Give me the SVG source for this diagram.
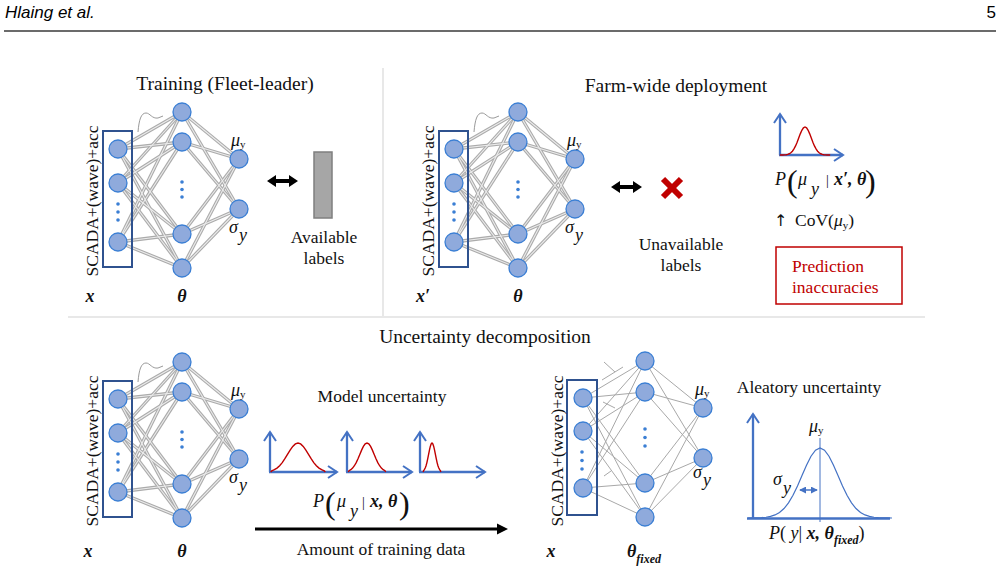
<svg xmlns="http://www.w3.org/2000/svg" xmlns:xlink="http://www.w3.org/1999/xlink" width="999" height="576" viewBox="0 0 999 576">
<style>
.hd{font-family:"Liberation Sans",Arial,sans-serif;font-size:17px;fill:#000}
.t{font-family:"Liberation Serif","Times New Roman",serif;font-size:17.5px;fill:#111}
.ti{font-family:"Liberation Serif","Times New Roman",serif;font-size:19.5px;fill:#111}
.m{font-family:"Liberation Serif","Times New Roman",serif;font-size:18px;fill:#111;font-style:italic}
.b{font-weight:bold;font-style:italic}
.n{fill:#8faadc;stroke:#3b7fd4;stroke-width:1.3}
.d{fill:#3b7fd4}
.box{fill:none;stroke:#2f528f;stroke-width:2}
.eo{stroke:#ababab;stroke-width:3.3;fill:none}
.ei{stroke:#ececec;stroke-width:1.1;fill:none}
.e1{stroke:#a8a8a8;stroke-width:1;fill:none}
.sq{fill:none;stroke:#9a9a9a;stroke-width:1}
.ax{stroke:#4472c4;stroke-width:2.3;fill:none}
.gr{fill:none;stroke:#c00000;stroke-width:1.4}
.gb{fill:none;stroke:#4472c4;stroke-width:1.2}
.sep{stroke:#e0e0e0;stroke-width:1.5}
</style>
<defs>
<marker id="va" viewBox="0 0 12 14" refX="10" refY="7" markerWidth="12" markerHeight="14" orient="auto" markerUnits="userSpaceOnUse">
<path d="M1,1 L10,7 L1,13" fill="none" stroke="#4472c4" stroke-width="2"/>
</marker>
<marker id="sa" viewBox="0 0 8 8" refX="7" refY="4" markerWidth="7" markerHeight="7" orient="auto-start-reverse" markerUnits="userSpaceOnUse">
<path d="M0,0 L8,4 L0,8 z" fill="#4472c4"/>
</marker>
<path id="gauss" vector-effect="non-scaling-stroke" d="M-4,0 L-3.75,-0.0009 L-3.5,-0.0022 L-3.25,-0.0051 L-3,-0.0111 L-2.75,-0.0228 L-2.5,-0.0439 L-2.25,-0.0796 L-2,-0.1353 L-1.75,-0.2163 L-1.5,-0.3247 L-1.25,-0.4578 L-1,-0.6065 L-0.75,-0.7548 L-0.5,-0.8825 L-0.25,-0.9692 L0,-1 L0.25,-0.9692 L0.5,-0.8825 L0.75,-0.7548 L1,-0.6065 L1.25,-0.4578 L1.5,-0.3247 L1.75,-0.2163 L2,-0.1353 L2.25,-0.0796 L2.5,-0.0439 L2.75,-0.0228 L3,-0.0111 L3.25,-0.0051 L3.5,-0.0022 L3.75,-0.0009 L4,0"/>
<path id="gauss3" vector-effect="non-scaling-stroke" d="M-2.6,0 L-2.5,-0.0439 L-2.25,-0.0796 L-2,-0.1353 L-1.75,-0.2163 L-1.5,-0.3247 L-1.25,-0.4578 L-1,-0.6065 L-0.75,-0.7548 L-0.5,-0.8825 L-0.25,-0.9692 L0,-1 L0.25,-0.9692 L0.5,-0.8825 L0.75,-0.7548 L1,-0.6065 L1.25,-0.4578 L1.5,-0.3247 L1.75,-0.2163 L2,-0.1353 L2.25,-0.0796 L2.5,-0.0439 L2.6,0"/>
<g id="edgesA">
<line x1="118" y1="149" x2="182" y2="112"/><line x1="118" y1="149" x2="182" y2="142"/><line x1="118" y1="149" x2="182" y2="234"/><line x1="118" y1="149" x2="182" y2="268"/>
<line x1="118" y1="183" x2="182" y2="112"/><line x1="118" y1="183" x2="182" y2="142"/><line x1="118" y1="183" x2="182" y2="234"/><line x1="118" y1="183" x2="182" y2="268"/>
<line x1="118" y1="242" x2="182" y2="112"/><line x1="118" y1="242" x2="182" y2="142"/><line x1="118" y1="242" x2="182" y2="234"/><line x1="118" y1="242" x2="182" y2="268"/>
<line x1="182" y1="112" x2="239" y2="159"/><line x1="182" y1="112" x2="239" y2="209"/>
<line x1="182" y1="142" x2="239" y2="159"/><line x1="182" y1="142" x2="239" y2="209"/>
<line x1="182" y1="234" x2="239" y2="159"/><line x1="182" y1="234" x2="239" y2="209"/>
<line x1="182" y1="268" x2="239" y2="159"/><line x1="182" y1="268" x2="239" y2="209"/>
</g>
</defs>

<!-- header -->
<g id="header">
<text class="hd" x="5" y="18" font-style="italic">Hlaing et al.</text>
<text class="hd" x="996" y="18" text-anchor="end">5</text>
<line x1="4" y1="31" x2="996" y2="31" stroke="#3a3a3a" stroke-width="1.5"/>
</g>

<!-- separators -->
<g id="separators">
<line class="sep" x1="383" y1="68" x2="383" y2="316"/>
<line class="sep" x1="68" y1="317" x2="925" y2="317"/>
</g>

<!-- titles -->
<g id="titles">
<text class="ti" x="225" y="90" text-anchor="middle">Training (Fleet-leader)</text>
<text class="ti" x="676" y="92" text-anchor="middle">Farm-wide deployment</text>
<text class="ti" x="485" y="343" text-anchor="middle">Uncertainty decomposition</text>
</g>

<!-- connectors -->
<g id="connectors">
<use xlink:href="#edgesA" href="#edgesA" class="eo"/>
<use xlink:href="#edgesA" href="#edgesA" class="ei"/>
<use xlink:href="#edgesA" href="#edgesA" class="eo" transform="translate(336,0)"/>
<use xlink:href="#edgesA" href="#edgesA" class="ei" transform="translate(336,0)"/>
<use xlink:href="#edgesA" href="#edgesA" class="eo" transform="translate(0,250)"/>
<use xlink:href="#edgesA" href="#edgesA" class="ei" transform="translate(0,250)"/>
<path class="sq" d="M138,132 C139,120 141,113 146,113 C150,113 152,119 158,118 L163,116"/>
<path class="sq" d="M474,132 C475,120 477,113 482,113 C486,113 488,119 494,118 L499,116"/>
<path class="sq" d="M138,382 C139,370 141,363 146,363 C150,363 152,369 158,368 L163,366"/>
<g class="e1">
<line x1="583" y1="398" x2="645" y2="361"/><line x1="583" y1="398" x2="645" y2="392"/><line x1="583" y1="398" x2="645" y2="483"/><line x1="583" y1="398" x2="645" y2="517"/>
<line x1="583" y1="431" x2="645" y2="361"/><line x1="583" y1="431" x2="645" y2="392"/><line x1="583" y1="431" x2="645" y2="483"/><line x1="583" y1="431" x2="645" y2="517"/>
<line x1="583" y1="488" x2="645" y2="361"/><line x1="583" y1="488" x2="645" y2="392"/><line x1="583" y1="488" x2="645" y2="483"/><line x1="583" y1="488" x2="645" y2="517"/>
<line x1="645" y1="361" x2="703" y2="408"/><line x1="645" y1="361" x2="703" y2="458"/>
<line x1="645" y1="392" x2="703" y2="408"/><line x1="645" y1="392" x2="703" y2="458"/>
<line x1="645" y1="483" x2="703" y2="408"/><line x1="645" y1="483" x2="703" y2="458"/>
<line x1="645" y1="517" x2="703" y2="408"/><line x1="645" y1="517" x2="703" y2="458"/>
<line x1="604" y1="362" x2="615" y2="372"/><line x1="602" y1="380" x2="623" y2="367"/>
<line x1="603" y1="402" x2="615" y2="408"/><line x1="604" y1="476" x2="611" y2="471"/>
</g>
</g>

<!-- network 1: training -->
<g id="net1">
<g id="n1-input"><rect class="box" x="103" y="131" width="29" height="136"/>
<circle class="n" cx="118" cy="149" r="9"/><circle class="n" cx="118" cy="183" r="9"/><circle class="n" cx="118" cy="242" r="9"/>
<circle class="d" cx="118" cy="204" r="1.8"/><circle class="d" cx="118" cy="212" r="1.8"/><circle class="d" cx="118" cy="220" r="1.8"/></g>
<g id="n1-hidden"><circle class="n" cx="182" cy="112" r="9"/><circle class="n" cx="182" cy="142" r="9"/><circle class="n" cx="182" cy="234" r="9"/><circle class="n" cx="182" cy="268" r="9"/>
<circle class="d" cx="182" cy="182" r="1.8"/><circle class="d" cx="182" cy="189.5" r="1.8"/><circle class="d" cx="182" cy="197" r="1.8"/></g>
<g id="n1-output"><circle class="n" cx="239" cy="159" r="9"/><circle class="n" cx="239" cy="209" r="9"/></g>
<text class="m" x="231" y="146">μ<tspan font-size="11" font-style="normal" dy="2">y</tspan></text>
<text class="m" x="229" y="233">σ<tspan dx="1" dy="8">y</tspan></text>
<text class="t" transform="translate(98,201) rotate(-90)" text-anchor="middle">SCADA+(wave)+acc</text>
<text class="m b" x="90" y="302" text-anchor="middle">x</text>
<text class="m b" x="182" y="302" text-anchor="middle">θ</text>
</g>
<g id="labels-available">
<polygon points="267,181 276,175 276,179 289,179 289,175 298,181 289,187 289,183 276,183 276,187" fill="#000"/>
<rect x="314" y="152" width="18" height="66" fill="#a6a6a6" stroke="#7f7f7f" stroke-width="1.5"/>
<text class="t" x="324" y="243" text-anchor="middle">Available</text>
<text class="t" x="324" y="264" text-anchor="middle">labels</text>
</g>

<!-- network 2: deployment -->
<g id="net2">
<g id="n2-input"><rect class="box" x="439" y="131" width="29" height="136"/>
<circle class="n" cx="454" cy="149" r="9"/><circle class="n" cx="454" cy="183" r="9"/><circle class="n" cx="454" cy="242" r="9"/>
<circle class="d" cx="454" cy="204" r="1.8"/><circle class="d" cx="454" cy="212" r="1.8"/><circle class="d" cx="454" cy="220" r="1.8"/></g>
<g id="n2-hidden"><circle class="n" cx="518" cy="112" r="9"/><circle class="n" cx="518" cy="142" r="9"/><circle class="n" cx="518" cy="234" r="9"/><circle class="n" cx="518" cy="268" r="9"/>
<circle class="d" cx="518" cy="182" r="1.8"/><circle class="d" cx="518" cy="189.5" r="1.8"/><circle class="d" cx="518" cy="197" r="1.8"/></g>
<g id="n2-output"><circle class="n" cx="575" cy="159" r="9"/><circle class="n" cx="575" cy="209" r="9"/></g>
<text class="m" x="567" y="146">μ<tspan font-size="11" font-style="normal" dy="2">y</tspan></text>
<text class="m" x="565" y="233">σ<tspan dx="1" dy="8">y</tspan></text>
<text class="t" transform="translate(434,201) rotate(-90)" text-anchor="middle">SCADA+(wave)+acc</text>
<text class="m b" x="423" y="302" text-anchor="middle">x′</text>
<text class="m b" x="518" y="302" text-anchor="middle">θ</text>
</g>
<g id="labels-unavailable">
<polygon points="611,187 620,181 620,185 633,185 633,181 642,187 633,193 633,189 620,189 620,193" fill="#000"/>
<g stroke="#c00000" stroke-width="6"><line x1="663" y1="179" x2="681" y2="197"/><line x1="681" y1="179" x2="663" y2="197"/></g>
<text class="t" x="681" y="250" text-anchor="middle">Unavailable</text>
<text class="t" x="681" y="271" text-anchor="middle">labels</text>
</g>
<g id="deploy-output">
<line class="ax" x1="780" y1="155" x2="780" y2="114" marker-end="url(#va)"/>
<line class="ax" x1="779" y1="155" x2="843" y2="155" marker-end="url(#va)"/>
<use xlink:href="#gauss" href="#gauss" class="gr" transform="translate(805,155) scale(6.3,28)"/>
<text class="m" y="185"><tspan x="775">P</tspan><tspan x="787" y="192" font-size="32" font-style="normal">(</tspan><tspan x="798" y="185">μ</tspan><tspan x="811" y="195">y</tspan><tspan x="826" y="185" font-size="14" font-style="normal">|</tspan><tspan x="834" class="b">x′, θ</tspan><tspan x="865" y="192" font-size="32" font-style="normal">)</tspan></text>
<text class="t" x="774" y="226"><tspan font-family="DejaVu Sans" font-size="16">↑</tspan><tspan x="795">CoV(</tspan><tspan font-style="italic">μ</tspan><tspan font-size="11" dy="3">y</tspan><tspan dy="-3">)</tspan></text>
<rect x="776" y="247" width="126" height="57" fill="none" stroke="#c00000" stroke-width="1.5"/>
<text class="t" x="792" y="272" style="fill:#c00000">Prediction</text>
<text class="t" x="792" y="293" style="fill:#c00000">inaccuracies</text>
</g>

<!-- network 3: model uncertainty -->
<g id="net3">
<g id="n3-input"><rect class="box" x="103" y="381" width="29" height="136"/>
<circle class="n" cx="118" cy="399" r="9"/><circle class="n" cx="118" cy="433" r="9"/><circle class="n" cx="118" cy="492" r="9"/>
<circle class="d" cx="118" cy="454" r="1.8"/><circle class="d" cx="118" cy="462" r="1.8"/><circle class="d" cx="118" cy="470" r="1.8"/></g>
<g id="n3-hidden"><circle class="n" cx="182" cy="362" r="9"/><circle class="n" cx="182" cy="392" r="9"/><circle class="n" cx="182" cy="484" r="9"/><circle class="n" cx="182" cy="518" r="9"/>
<circle class="d" cx="182" cy="432" r="1.8"/><circle class="d" cx="182" cy="439.5" r="1.8"/><circle class="d" cx="182" cy="447" r="1.8"/></g>
<g id="n3-output"><circle class="n" cx="239" cy="409" r="9"/><circle class="n" cx="239" cy="459" r="9"/></g>
<text class="m" x="231" y="396">μ<tspan font-size="11" font-style="normal" dy="2">y</tspan></text>
<text class="m" x="229" y="483">σ<tspan dx="1" dy="8">y</tspan></text>
<text class="t" transform="translate(98,451) rotate(-90)" text-anchor="middle">SCADA+(wave)+acc</text>
<text class="m b" x="88" y="557" text-anchor="middle">x</text>
<text class="m b" x="182" y="557" text-anchor="middle">θ</text>
</g>
<g id="model-uncertainty">
<text class="t" x="382" y="402" text-anchor="middle">Model uncertainty</text>
<line class="ax" x1="270" y1="472" x2="270" y2="432" marker-end="url(#va)"/>
<line class="ax" x1="269" y1="472" x2="337" y2="472" marker-end="url(#va)"/>
<use xlink:href="#gauss3" href="#gauss3" class="gr" transform="translate(298,472) scale(10.5,29)"/>
<line class="ax" x1="347" y1="472" x2="347" y2="432" marker-end="url(#va)"/>
<line class="ax" x1="346" y1="472" x2="412" y2="472" marker-end="url(#va)"/>
<use xlink:href="#gauss3" href="#gauss3" class="gr" transform="translate(367,472) scale(7.2,29)"/>
<line class="ax" x1="420" y1="472" x2="420" y2="432" marker-end="url(#va)"/>
<line class="ax" x1="419" y1="472" x2="485" y2="472" marker-end="url(#va)"/>
<use xlink:href="#gauss3" href="#gauss3" class="gr" transform="translate(432,472) scale(3.4,29)"/>
<text class="m" y="507"><tspan x="313">P</tspan><tspan x="325" y="514" font-size="32" font-style="normal">(</tspan><tspan x="337" y="507">μ</tspan><tspan x="350" y="517">y</tspan><tspan x="362" y="507" font-size="14" font-style="normal">|</tspan><tspan x="370" class="b">x, θ</tspan><tspan x="399" y="514" font-size="32" font-style="normal">)</tspan></text>
<line x1="255" y1="529" x2="499" y2="529" stroke="#000" stroke-width="3"/>
<polygon points="497,523.5 508,529 497,534.5" fill="#000"/>
<text class="t" x="381" y="555" text-anchor="middle">Amount of training data</text>
</g>

<!-- network 4: fixed parameters -->
<g id="net4">
<g id="n4-input"><rect class="box" x="567" y="380" width="30" height="135"/>
<circle class="n" cx="583" cy="398" r="9"/><circle class="n" cx="583" cy="431" r="9"/><circle class="n" cx="583" cy="488" r="9"/>
<circle class="d" cx="582" cy="452" r="1.8"/><circle class="d" cx="582" cy="460.5" r="1.8"/><circle class="d" cx="582" cy="469" r="1.8"/></g>
<g id="n4-hidden"><circle class="n" cx="645" cy="361" r="9"/><circle class="n" cx="645" cy="392" r="9"/><circle class="n" cx="645" cy="483" r="9"/><circle class="n" cx="645" cy="517" r="9"/>
<circle class="d" cx="645" cy="429" r="1.8"/><circle class="d" cx="645" cy="437.5" r="1.8"/><circle class="d" cx="645" cy="446" r="1.8"/></g>
<g id="n4-output"><circle class="n" cx="703" cy="408" r="9"/><circle class="n" cx="703" cy="458" r="9"/></g>
<text class="m" x="695" y="395">μ<tspan font-size="11" font-style="normal" dy="2">y</tspan></text>
<text class="m" x="693" y="478">σ<tspan dx="1" dy="8">y</tspan></text>
<text class="t" transform="translate(563,451) rotate(-90)" text-anchor="middle">SCADA+(wave)+acc</text>
<text class="m b" x="551" y="557" text-anchor="middle">x</text>
<text class="m b" x="627" y="557">θ<tspan font-size="12" dy="6">fixed</tspan></text>
</g>
<g id="aleatory-uncertainty">
<text class="t" x="809" y="393" text-anchor="middle">Aleatory uncertainty</text>
<line class="ax" x1="753" y1="519" x2="753" y2="414" marker-end="url(#va)"/>
<line class="ax" x1="747" y1="518.5" x2="890" y2="518.5"/>
<use xlink:href="#gauss" href="#gauss" class="gb" transform="translate(820,518) scale(18,70)"/>
<line x1="820" y1="438" x2="820" y2="522" stroke="#4472c4" stroke-width="1"/>
<line x1="800" y1="490" x2="817" y2="490" stroke="#4472c4" stroke-width="1.5" marker-start="url(#sa)" marker-end="url(#sa)"/>
<text class="m" x="809" y="432">μ<tspan font-size="11" font-style="normal" dy="2">y</tspan></text>
<text class="m" x="773" y="485">σ<tspan dx="1" dy="9">y</tspan></text>
<text class="m" y="539"><tspan x="769">P</tspan><tspan font-style="normal">( </tspan><tspan>y</tspan><tspan font-style="normal">| </tspan><tspan class="b">x, θ</tspan><tspan class="b" font-size="12" dy="5">fixed</tspan><tspan font-style="normal" dy="-5">)</tspan></text>
</g>
</svg>
